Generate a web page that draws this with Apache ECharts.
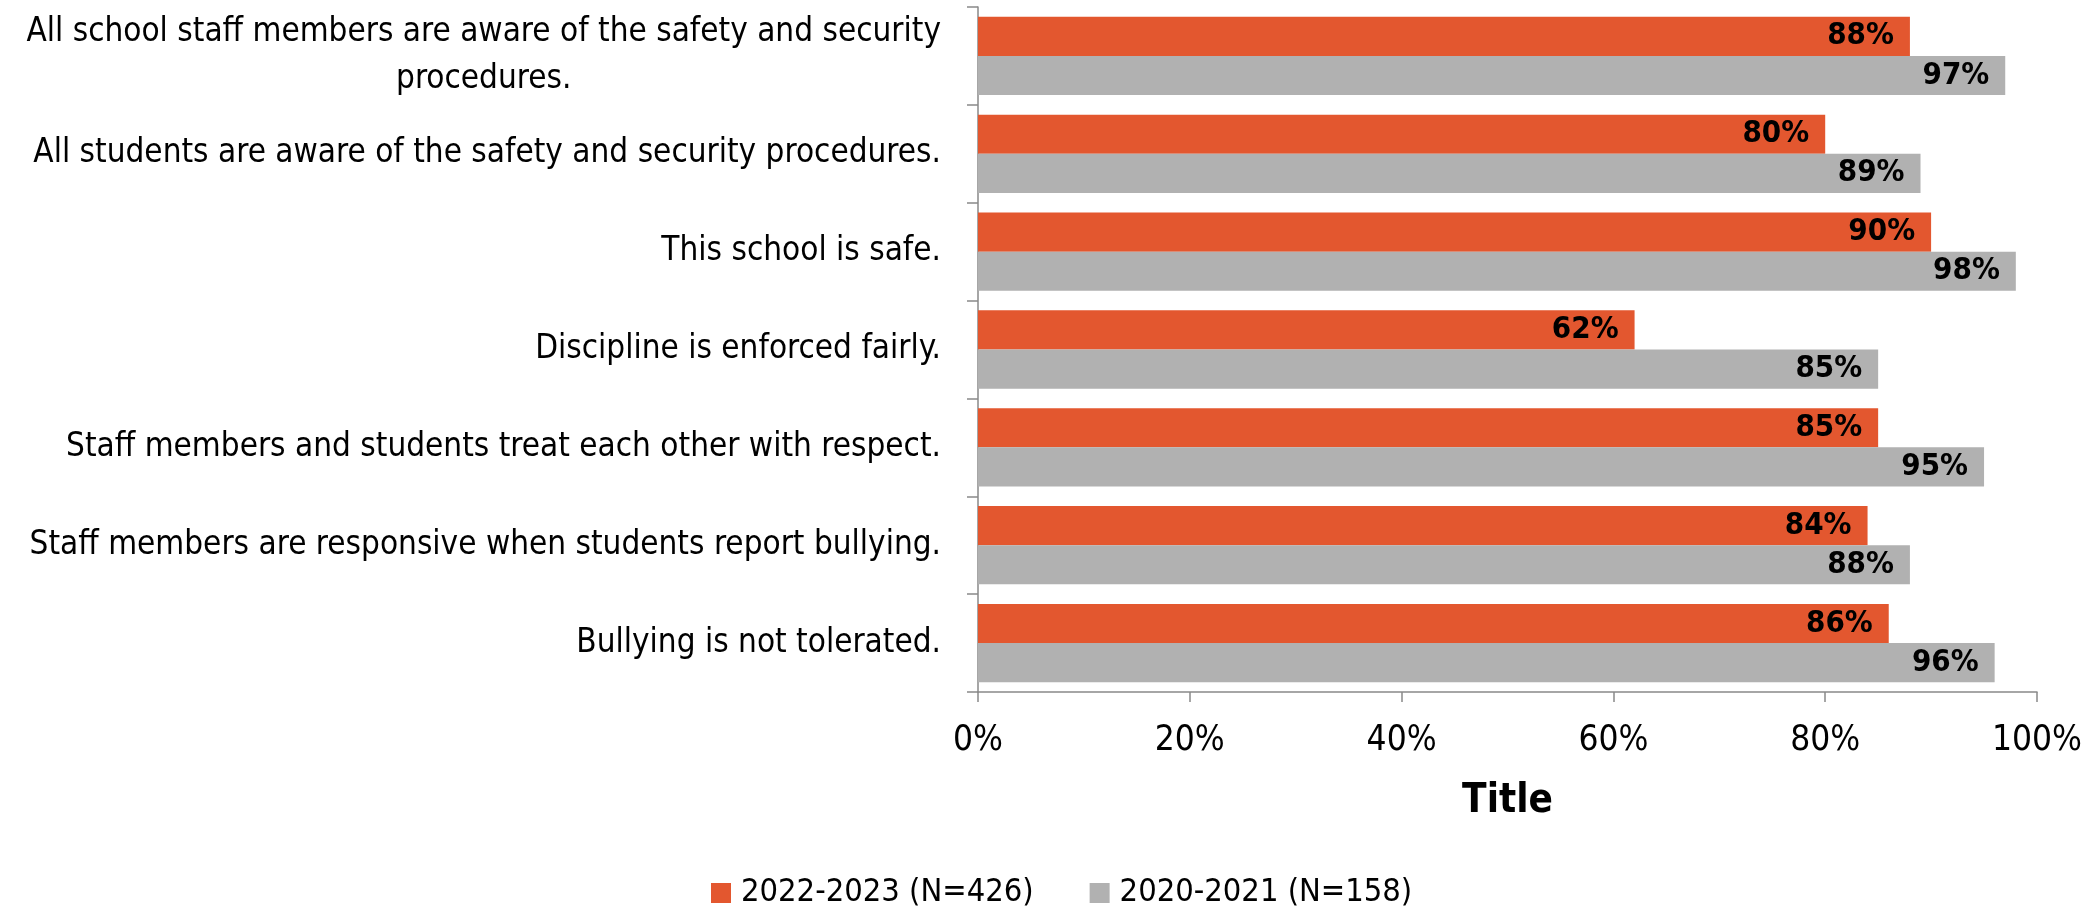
<!DOCTYPE html>
<html>
<head>
<meta charset="utf-8">
<script src="https://cdn.jsdelivr.net/npm/echarts@6/dist/echarts.min.js"></script>
<style>
html,body{margin:0;padding:0;background:#fff;}
#chart{width:2097px;height:908px;}
</style>
</head>
<body>
<div id="chart"></div>
<script>
var categories = [
  "All school staff members are aware of the safety and security\nprocedures.",
  "All students are aware of the safety and security procedures.",
  "This school is safe.",
  "Discipline is enforced fairly.",
  "Staff members and students treat each other with respect.",
  "Staff members are responsive when students report bullying.",
  "Bullying is not tolerated."
];
var seriesNames = ["2022-2023 (N=426)", "2020-2021 (N=158)"];
var values2022 = [88, 80, 90, 62, 85, 84, 86];
var values2020 = [97, 89, 98, 85, 95, 88, 96];
var xAxisTitle = "Title";

var FONT = "'DejaVu Sans Condensed', 'Liberation Sans Narrow', 'Liberation Sans', sans-serif";
var chart = echarts.init(document.getElementById('chart'), null, {renderer: 'canvas'});

var labelStyle = {
  show: true,
  position: 'insideRight',
  distance: 16,
  formatter: '{c}%',
  color: '#000',
  fontWeight: 'bold',
  fontSize: 31,
  fontFamily: FONT
};

chart.setOption({
  animation: false,
  backgroundColor: '#fff',
  grid: {left: 978, right: 60, top: 7, bottom: 216, outerBoundsMode: 'none'},
  legend: {
    data: seriesNames,
    left: 706,
    top: 872,
    itemWidth: 20,
    itemHeight: 20,
    itemGap: 56,
    icon: 'rect',
    textStyle: {fontSize: 32.4, fontFamily: FONT, color: '#000', padding: [0, 0, 0, 5]}
  },
  xAxis: {
    type: 'value',
    min: 0,
    max: 100,
    interval: 20,
    name: xAxisTitle,
    nameLocation: 'middle',
    nameGap: 90,
    nameTextStyle: {fontSize: 40, fontWeight: 'bold', fontFamily: FONT, color: '#000'},
    axisLine: {show: true, lineStyle: {color: '#898989', width: 1.5}},
    axisTick: {show: true, length: 10, lineStyle: {color: '#898989', width: 1.5}},
    splitLine: {show: false},
    axisLabel: {formatter: '{value}%', fontSize: 35, fontFamily: FONT, color: '#000', margin: 31}
  },
  yAxis: {
    type: 'category',
    data: categories,
    inverse: true,
    axisLine: {show: true, lineStyle: {color: '#898989', width: 1.5}},
    axisTick: {show: true, length: 11, lineStyle: {color: '#898989', width: 1.5}},
    splitLine: {show: false},
    axisLabel: {
      margin: 37,
      color: '#000',
      fontSize: 33,
      fontFamily: FONT,
      formatter: function (v) {
        return v.split('\n').map(function (l) { return '{c|' + l + '}'; }).join('\n');
      },
      rich: {c: {align: 'center', fontSize: 33, fontFamily: FONT, color: '#000', lineHeight: 47}}
    }
  },
  series: [
    {
      name: seriesNames[0],
      type: 'bar',
      data: values2022,
      barGap: '0%',
      barCategoryGap: '20%',
      itemStyle: {color: '#E3572F'},
      label: labelStyle
    },
    {
      name: seriesNames[1],
      type: 'bar',
      data: values2020,
      barGap: '0%',
      barCategoryGap: '20%',
      itemStyle: {color: '#B1B1B1'},
      label: labelStyle
    }
  ]
});
</script>
</body>
</html>
